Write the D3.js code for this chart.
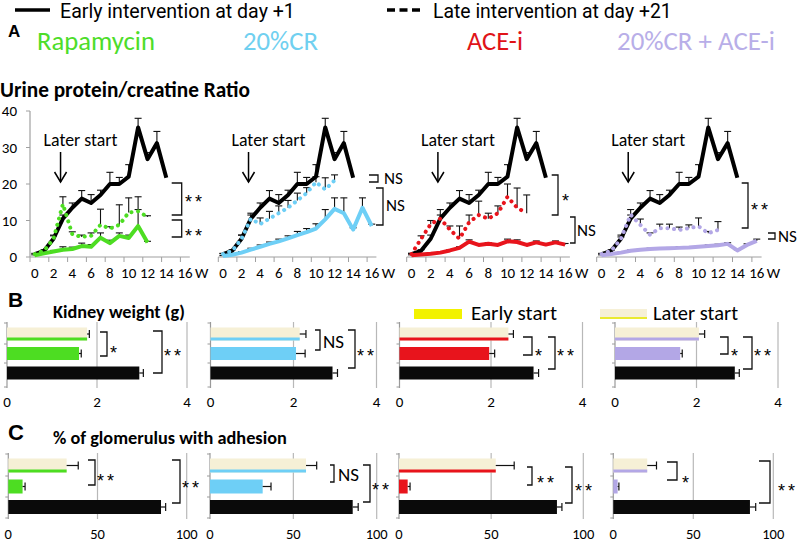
<!DOCTYPE html>
<html><head><meta charset="utf-8">
<script src="https://cdn.jsdelivr.net/npm/d3@7"></script>
<style>body{margin:0;background:#fff}svg{display:block}</style>
</head><body><svg id="c" width="797" height="542"></svg>
<script>
// ---------------- DATA ----------------
const weeks = d3.range(0, 17);
const weekTickLabels = [0, 2, 4, 6, 8, 10, 12, 14, 16];
const upcrTicks = [0, 10, 20, 30, 40];
const groupNames = ["Rapamycin", "20%CR", "ACE-i", "20%CR + ACE-i"];

// untreated control (black) urine protein/creatinine ratio, weeks 0..14
const ctrlUPCR    = [0.8, 1.7, 5, 10.5, 13.5, 16, 14.8, 17, 20, 20, 22, 35.5, 26.8, 31.2, 21.7];
const ctrlUPCRErr = [0.2, 0.3, 1, 1, 1.3, 2.2, 2.3, 1.3, 3.2, 1.8, 3.3, 2.5, 1.8, 3.2, 0];

const rapaEarly    = [0.5, 1.0, 1.5, 2.0, 2.2, 3.0, 2.8, 5.3, 3.8, 5.8, 5.2, 8.5, 4.0];
const rapaEarlyErr = [0.1, 0.2, 0.3, 0.8, 0.5, 0.8, 0.6, 1.3, 0.8, 0.8, 0.8, 8, 0.3];
const rapaLate     = [0.8, 1.7, 5, 14.5, 6.2, 5.5, 5.8, 8.8, 7.8, 8.8, 12.2, 12.5, 11];
const rapaLateErr  = [0, 0, 0.8, 2, 0.7, 0.5, 0.8, 4.3, 0.5, 5.5, 4, 0.5, 0.3];

const crEarly    = [0.3, 0.6, 1.2, 2.0, 2.8, 3.6, 4.3, 5.1, 6.0, 6.8, 7.8, 10.3, 13.2, 12, 7.5, 13.5, 8.5];
const crEarlyErr = [0.1, 0.2, 0.3, 0.4, 0.5, 0.5, 0.6, 0.7, 1, 1, 1.3, 2.7, 3, 4.2, 0.5, 2.7, 0.5];
const crLate     = [0.8, 1.7, 5, 10.5, 9, 10.5, 12, 13.5, 15.5, 17.5, 20.5, 18.5, 21];
const crLateErr  = [0.1, 0.3, 1, 1.5, 1.7, 2, 2, 2, 2, 1.5, 1.5, 3.2, 1.5];

const aceEarly    = [0.5, 0.7, 0.9, 1.2, 1.8, 2.5, 4.2, 3.3, 3.6, 3.3, 4.3, 4.1, 3.3, 4.0, 3.4, 4.0, 3.4];
const aceEarlyErr = [0.1, 0.1, 0.1, 0.2, 0.2, 0.3, 0.5, 0.3, 0.3, 0.3, 0.6, 0.6, 0.3, 0.4, 0.3, 0.4, 0.3];
const aceLate     = [0.8, 5, 9, 10.5, 7.5, 5, 9.5, 11.5, 10.5, 12, 16.5, 13.5, 12];
const aceLateErr  = [0.2, 0.8, 1, 2.5, 1, 3.5, 2, 3.8, 1.5, 2, 3.5, 5.4, 5];

const comboEarly    = [0.5, 0.8, 1.2, 1.7, 2.0, 2.2, 2.3, 2.4, 2.5, 2.6, 2.8, 3.0, 3.2, 3.6, 1.8, 3.3, 4.4];
const comboEarlyErr = [0.1, 0.1, 0.1, 0.2, 0.2, 0.2, 0.2, 0.2, 0.3, 0.2, 0.3, 0.3, 0.3, 0.3, 0.2, 0.3, 0.5];
const comboLate     = [0.8, 1.7, 5, 11.6, 8.8, 6.1, 7.9, 7.9, 7.4, 7.9, 8.4, 6.5, 7.4];
const comboLateErr  = [0, 0.2, 0.5, 1.4, 1.6, 0.5, 1.1, 1.1, 0.8, 0.9, 2.3, 0.5, 2.3];

const upcrSigLate  = ["**", "NS", "*", "**"];   // control vs late
const upcrSigEarly = ["**", "NS", "NS", "NS"];  // late vs early

// kidney weight (g): later start, early start, control
const kidneyLate     = [1.78, 2.15, 2.38, 2.06];
const kidneyLateErr  = [0.05, 0.15, 0.11, 0.14];
const kidneyEarly    = [1.6, 2.06, 1.96, 1.6];
const kidneyEarlyErr = [0.05, 0.22, 0.12, 0.05];
const kidneyCtrl     = [2.94, 2.94, 2.93, 2.94];
const kidneyCtrlErr  = [0.09, 0.12, 0.11, 0.11];
const kidneyTicks = [0, 2, 4];
const kidneySig1 = ["*", "NS", "*", "*"];
const kidneySig2 = ["**", "**", "**", "**"];

// % of glomerulus with adhesion
const adhLate     = [32.7, 57.6, 52.5, 21.2];
const adhLateErr  = [6.5, 6.4, 10, 5.8];
const adhEarly    = [8, 31.6, 4.7, 2.7];
const adhEarlyErr = [1.4, 5, 1.3, 0.8];
const adhCtrl     = [85.6, 85.6, 85.7, 85.4];
const adhCtrlErr  = [2.6, 3.3, 2.7, 3.6];
const adhTicks = [0, 50, 100];
const adhSig1 = ["**", "NS", "**", "*"];
const adhSig2 = ["**", "**", "**", "**"];

// ---------------- STYLE / LAYOUT ----------------
const colors = ["#4ddd22", "#6ecff6", "#e8141c", "#b3a7e6"];
const titleColors = ["#4ddd2a", "#70d0f0", "#e01418", "#b8aee8"];
const cream = "#f6f0d6";
const FONT = "Calibri, Carlito, Lato, sans-serif";
const svg = d3.select("#c");

function fit(t, w) {
  const l = t.node().getComputedTextLength();
  t.attr("font-size", parseFloat(t.attr("font-size")) * w / l);
  return t;
}
function text(x, y, s, o = {}) {
  const t = svg.append("text").attr("x", x).attr("y", y).text(s)
    .attr("font-family", o.family || FONT).attr("font-size", o.size || 14)
    .attr("fill", o.fill || "#000").attr("font-weight", o.weight || "normal")
    .attr("text-anchor", o.anchor || "start");
  if (o.width) fit(t, o.width);
  return t;
}
function sig(x, y, s, size) {
  if (s === "NS") return text(x, y, s, {size: size});
  return text(x, y + 2, s, {size: size + 1, family: "Liberation Sans, Arial, sans-serif"}).attr("letter-spacing", 3);
}
function bracket(x0, x1, y0, y1) {
  svg.append("path").attr("d", `M${x0},${y0}H${x1}V${y1}H${x0}`)
    .attr("fill", "none").attr("stroke", "#111").attr("stroke-width", 1.3);
}

// ---------------- HEADER ----------------
svg.append("line").attr("x1", 15).attr("x2", 50).attr("y1", 10).attr("y2", 10)
  .attr("stroke", "#000").attr("stroke-width", 3.5);
text(60, 17.5, "Early intervention at day +1", {size: 18, width: 235, family: "Roboto, sans-serif"});
svg.append("line").attr("x1", 387).attr("x2", 423).attr("y1", 10).attr("y2", 10)
  .attr("stroke", "#000").attr("stroke-width", 3.5).attr("stroke-dasharray", "8,4.5");
text(433, 17.5, "Late intervention at day +21", {size: 18, width: 239, family: "Roboto, sans-serif"});
text(8, 37, "A", {size: 17, weight: "bold", family: "Liberation Sans, Arial, sans-serif"});
const titleX = [37, 243, 467, 617], titleW = [118, 75, 56, 158];
groupNames.forEach((n, i) => text(titleX[i], 50, n, {size: 22, fill: titleColors[i], width: titleW[i]}));
text(0, 97, "Urine protein/creatine Ratio", {size: 17, weight: "bold", width: 250});

// ---------------- PANEL A ----------------
const yA = d3.scaleLinear().domain([0, 40]).range([257, 111]);
const panelA = [
  {L: 30,    c: 9.4,  early: rapaEarly,  earlyErr: rapaEarlyErr,  late: rapaLate,  lateErr: rapaLateErr},
  {L: 218.3, c: 9.3,  early: crEarly,    earlyErr: crEarlyErr,    late: crLate,    lateErr: crLateErr},
  {L: 406.7, c: 9.6,  early: aceEarly,   earlyErr: aceEarlyErr,   late: aceLate,   lateErr: aceLateErr},
  {L: 596.7, c: 9.7,  early: comboEarly, earlyErr: comboEarlyErr, late: comboLate, lateErr: comboLateErr}
];
const brA = [
  {b1: [171.7, 181.7, 183, 215], t1: [185, 206], b2: [171.7, 181.7, 220, 237], t2: [185, 240]},
  {b1: [369, 378, 175, 182],     t1: [384, 184], b2: [376, 383, 188, 225],     t2: [386, 211]},
  {b1: [551.7, 558, 175, 215],   t1: [562, 205], b2: [570, 575, 217, 243],     t2: [577, 236]},
  {b1: [741.7, 748, 183, 228],   t1: [751, 214], b2: [768, 775, 233, 239],     t2: [778, 242]}
];

panelA.forEach((p, i) => {
  const x = d3.scaleLinear().domain([-0.5, 16.5]).range([p.L, p.L + 17 * p.c]);
  const g = svg.append("g");
  g.append("line").attr("x1", x(-0.5)).attr("x2", x(16.5)).attr("y1", yA(0)).attr("y2", yA(0))
    .attr("stroke", "#a0a0a0").attr("stroke-width", 1.2);
  d3.range(-0.5, 16, 2).forEach(v => g.append("line").attr("x1", x(v)).attr("x2", x(v))
    .attr("y1", yA(0)).attr("y2", yA(0) + 5).attr("stroke", "#a0a0a0"));
  weekTickLabels.forEach(v => text(x(v), 278, v, {size: 15, anchor: "middle"}));
  text(x(16) + 10, 278, "W", {size: 15});
  if (i === 0) {
    g.append("line").attr("x1", p.L).attr("x2", p.L).attr("y1", yA(0)).attr("y2", yA(40))
      .attr("stroke", "#a0a0a0").attr("stroke-width", 1.2);
    upcrTicks.forEach(v => {
      g.append("line").attr("x1", p.L - 4).attr("x2", p.L).attr("y1", yA(v)).attr("y2", yA(v)).attr("stroke", "#a0a0a0");
      text(17, yA(v) + 5, v, {size: 15, anchor: "end"});
    });
  }
  const line = d3.line().x((d, k) => x(k)).y(d => yA(d));
  const errs = (vals, e) => vals.forEach((v, k) => {
    if (!e[k]) return;
    g.append("line").attr("x1", x(k)).attr("x2", x(k)).attr("y1", yA(v)).attr("y2", yA(v + e[k]))
      .attr("stroke", "#111").attr("stroke-width", 1.1);
    g.append("line").attr("x1", x(k) - 3.5).attr("x2", x(k) + 3.5).attr("y1", yA(v + e[k])).attr("y2", yA(v + e[k]))
      .attr("stroke", "#111").attr("stroke-width", 1.1);
  });
  errs(ctrlUPCR, ctrlUPCRErr);
  errs(p.early, p.earlyErr);
  errs(p.late, p.lateErr);
  g.append("path").attr("d", line(ctrlUPCR)).attr("fill", "none").attr("stroke", "#000")
    .attr("stroke-width", 4).attr("stroke-linejoin", "round");
  g.append("path").attr("d", line(p.early)).attr("fill", "none").attr("stroke", colors[i])
    .attr("stroke-width", 4).attr("stroke-linejoin", "round");
  g.append("path").attr("d", line(p.late)).attr("fill", "none").attr("stroke", colors[i])
    .attr("stroke-width", 4).attr("stroke-linecap", "round").attr("stroke-dasharray", "0.1,6.5");
  const ax = x(2.75);
  text(ax - 17, 146, "Later start", {size: 17, width: 74});
  g.append("line").attr("x1", ax).attr("x2", ax).attr("y1", 152).attr("y2", 182).attr("stroke", "#000").attr("stroke-width", 1.5);
  g.append("path").attr("d", `M${ax - 6},${172}L${ax},${182}L${ax + 6},${172}`).attr("fill", "none")
    .attr("stroke", "#000").attr("stroke-width", 1.5);
  const b = brA[i];
  bracket(b.b1[0], b.b1[1], b.b1[2], b.b1[3]);
  bracket(b.b2[0], b.b2[1], b.b2[2], b.b2[3]);
  sig(b.t1[0], b.t1[1], upcrSigLate[i], 17);
  sig(b.t2[0], b.t2[1], upcrSigEarly[i], 17);
});

// ---------------- PANEL B / C ----------------
text(8, 307, "B", {size: 21, weight: "bold", family: "Liberation Sans, Arial, sans-serif"});
text(53, 318, "Kidney weight (g)", {size: 15, weight: "bold", width: 132});
text(8, 440, "C", {size: 22, weight: "bold", family: "Liberation Sans, Arial, sans-serif"});
text(53, 444, "% of glomerulus with adhesion", {size: 15, weight: "bold", width: 234});

svg.append("rect").attr("x", 414).attr("y", 309).attr("width", 48).attr("height", 10).attr("fill", "#f2f200");
text(471, 320, "Early start", {size: 19, width: 86});
svg.append("rect").attr("x", 600).attr("y", 309).attr("width", 47).attr("height", 10).attr("fill", cream);
svg.append("rect").attr("x", 600).attr("y", 317).attr("width", 47).attr("height", 2).attr("fill", "#eaea30");
text(653, 320, "Later start", {size: 19, width: 85});

function barPanel(cfg) {
  cfg.x0.forEach((x0, i) => {
    const x = d3.scaleLinear().domain([0, cfg.max]).range([x0, x0 + cfg.w[i]]);
    const g = svg.append("g");
    const [top, bot] = cfg.gridY;
    cfg.ticks.forEach((t, k) => {
      g.append("line").attr("x1", x(t)).attr("x2", x(t)).attr("y1", top).attr("y2", bot)
        .attr("stroke", k === 0 ? "#9a9a9a" : "#b8b8b8").attr("stroke-width", 1.2);
      text(x(t), cfg.labelY, t, {size: cfg.labelSize, anchor: "middle"});
    });
    cfg.axisTicks.forEach(yy => g.append("line").attr("x1", x(0) - 3).attr("x2", x(0)).attr("y1", yy).attr("y2", yy).attr("stroke", "#9a9a9a"));
    const rows = [
      {v: cfg.late[i], e: cfg.lateErr[i], fill: cream, stripe: colors[i]},
      {v: cfg.early[i], e: cfg.earlyErr[i], fill: colors[i]},
      {v: cfg.ctrl[i], e: cfg.ctrlErr[i], fill: "#0a0a0a"}
    ];
    rows.forEach((r, k) => {
      const yc = cfg.centers[k], h = cfg.barH;
      g.append("rect").attr("x", x(0)).attr("y", yc - h / 2).attr("width", x(r.v) - x(0)).attr("height", h).attr("fill", r.fill);
      if (r.stripe) g.append("rect").attr("x", x(0)).attr("y", yc + h / 2 - 3).attr("width", x(r.v) - x(0)).attr("height", 3).attr("fill", r.stripe);
      g.append("line").attr("x1", x(r.v)).attr("x2", x(r.v + r.e)).attr("y1", yc).attr("y2", yc).attr("stroke", "#111").attr("stroke-width", 1.2);
      g.append("line").attr("x1", x(r.v + r.e)).attr("x2", x(r.v + r.e)).attr("y1", yc - 4).attr("y2", yc + 4).attr("stroke", "#111").attr("stroke-width", 1.2);
    });
    const b = cfg.brackets[i];
    bracket(b[0], b[1], b[2], b[3]);
    bracket(b[4], b[5], b[6], b[7]);
    sig(b[8], b[9], cfg.sig1[i], cfg.sig1[i] === "NS" ? 19 : 17);
    sig(b[10], b[11], cfg.sig2[i], 17);
  });
}

barPanel({
  x0: [7, 210.5, 399.5, 615], w: [180, 166, 183, 163], max: 4, ticks: kidneyTicks,
  gridY: [322, 388], labelY: 407, labelSize: 15, centers: [334, 353.5, 373], barH: 13,
  axisTicks: [323, 344, 363, 387],
  late: kidneyLate, lateErr: kidneyLateErr, early: kidneyEarly, earlyErr: kidneyEarlyErr,
  ctrl: kidneyCtrl, ctrlErr: kidneyCtrlErr, sig1: kidneySig1, sig2: kidneySig2,
  brackets: [
    [100, 107, 332, 356, 153, 162, 331, 373, 110, 357, 164, 360],
    [315, 320, 330, 350, 348, 355, 330, 368, 323, 348, 357, 360],
    [523, 532, 337, 355, 548, 555, 337, 369, 535, 360, 557, 360],
    [720, 728, 337, 354, 743, 752, 337, 369, 731, 360, 754, 360]
  ]
});

barPanel({
  x0: [8.3, 210, 399, 613.3], w: [178.4, 166.7, 184.3, 160], max: 100, ticks: adhTicks,
  gridY: [453, 519], labelY: 538.5, labelSize: 14.5, centers: [465.5, 486.5, 507], barH: 14,
  axisTicks: [454, 476, 497, 518],
  late: adhLate, lateErr: adhLateErr, early: adhEarly, earlyErr: adhEarlyErr,
  ctrl: adhCtrl, ctrlErr: adhCtrlErr, sig1: adhSig1, sig2: adhSig2,
  brackets: [
    [88, 95, 460, 485, 172, 180, 460, 503, 97, 485, 182, 492],
    [330, 334, 465, 482, 363, 370, 465, 502, 338, 481, 372, 494],
    [527, 532, 467, 485, 565, 572, 467, 503, 537, 487, 575, 495],
    [667, 677, 462, 480, 759, 770, 461, 503, 682, 487, 778, 495]
  ]
});
</script></body></html>
